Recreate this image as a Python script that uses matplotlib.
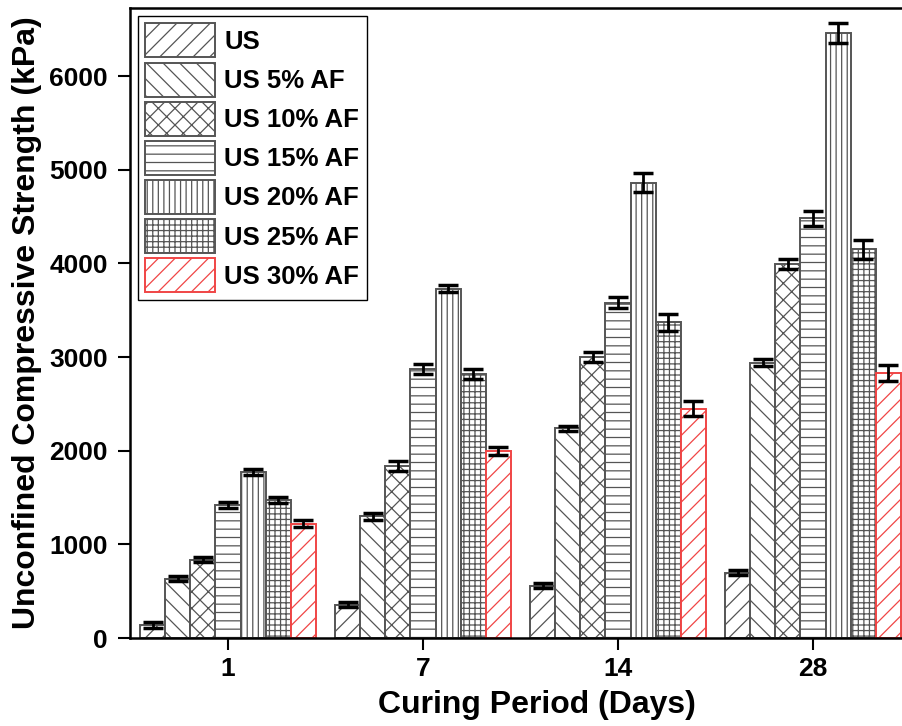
import matplotlib
matplotlib.use('Agg')
import matplotlib.pyplot as plt
import numpy as np

matplotlib.rcParams.update({'font.family': 'Liberation Sans', 'font.weight': 'bold',
                            'hatch.linewidth': 0.9})

days = ['1', '7', '14', '28']
series = ['US', 'US 5% AF', 'US 10% AF', 'US 15% AF', 'US 20% AF', 'US 25% AF', 'US 30% AF']

# UCS (kPa) per series, one value per curing period
ucs = {
    'US':        [140, 355, 560, 695],
    'US 5% AF':  [635, 1300, 2240, 2940],
    'US 10% AF': [835, 1835, 3000, 3990],
    'US 15% AF': [1420, 2875, 3580, 4480],
    'US 20% AF': [1770, 3730, 4860, 6460],
    'US 25% AF': [1475, 2820, 3370, 4150],
    'US 30% AF': [1220, 1995, 2445, 2830],
}
err = {
    'US':        [28, 27, 28, 27],
    'US 5% AF':  [30, 35, 28, 38],
    'US 10% AF': [25, 53, 50, 55],
    'US 15% AF': [32, 55, 62, 78],
    'US 20% AF': [34, 35, 100, 107],
    'US 25% AF': [32, 50, 93, 104],
    'US 30% AF': [39, 46, 80, 89],
}

hatches = ['//', '\\\\', 'xx', '--', '|||', '+++', '//']
edges = ['#555555'] * 6 + ['#f04545']


def main():
    fig = plt.figure(figsize=(9.03, 7.26), dpi=100)
    # the original figure is cropped on the right, so the axes run past the edge
    ax = fig.add_axes([130 / 903, 88 / 726, 814 / 903, 630 / 726])
    x = np.arange(len(days))
    width = 0.1287
    for i, name in enumerate(series):
        pos = x + (i - 3) * width
        ax.bar(pos, ucs[name], width, facecolor='white', edgecolor=edges[i],
               hatch=hatches[i], linewidth=1.4, label=name, zorder=2)
        ax.errorbar(pos, ucs[name], yerr=err[name], fmt='none', ecolor='black',
                    elinewidth=2, capsize=7, capthick=2.5, zorder=3)

    ax.set_xlim(-0.5026, 3.672)
    ax.set_ylim(0, 6726)
    ax.set_xticks(x)
    ax.set_xticklabels(days)
    ax.set_yticks(range(0, 7000, 1000))
    ax.tick_params(axis='both', labelsize=19, width=1.5, length=8.5, direction='out')
    ax.tick_params(axis='x', pad=5)
    ax.tick_params(axis='y', pad=7.5)
    for side in ['left', 'bottom', 'top', 'right']:
        ax.spines[side].set_linewidth(1.8)
    ax.set_xlabel('Curing Period (Days)', fontsize=23, fontweight='bold', labelpad=7)
    ax.set_ylabel('Unconfined Compressive Strength (kPa)', fontsize=23, fontweight='bold', labelpad=5)

    leg = ax.legend(loc='upper left', fontsize=18.5, fancybox=False, edgecolor='black',
                    framealpha=1, handlelength=2.72, handleheight=1.66, labelspacing=0.2,
                    handletextpad=0.35, borderpad=0.3, borderaxespad=0.3)
    leg.get_frame().set_linewidth(1.0)

    fig.savefig('out.png', dpi=100)


if __name__ == '__main__':
    main()
